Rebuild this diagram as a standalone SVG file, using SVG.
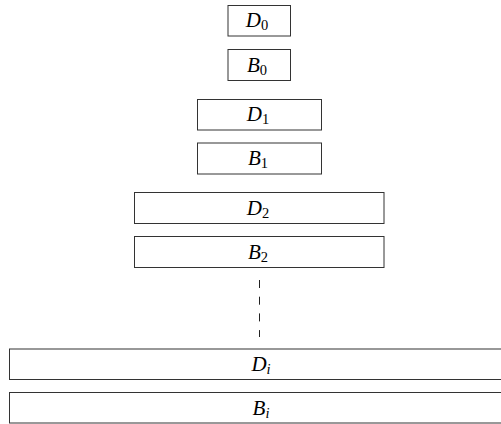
<svg xmlns="http://www.w3.org/2000/svg" width="501" height="424" viewBox="0 0 501 424">
<style>
.box{fill:#fff;stroke:#333;stroke-width:1}
.lbl{font-family:"Liberation Serif","DejaVu Serif",serif;font-size:21px;font-style:italic;fill:#000;text-anchor:middle}
.sub{font-style:normal;font-size:14.5px}
.subi{font-style:italic;font-size:14.5px}
.conn{stroke:#222;stroke-width:1;stroke-dasharray:8 8.7;fill:none}
</style>
<rect width="501" height="424" fill="#fff"/>
<g id="D0"><rect class="box" x="228" y="5.5" width="62.5" height="30.5"/><text class="lbl" x="257" y="27">D<tspan class="sub" dy="3">0</tspan></text></g>
<g id="B0"><rect class="box" x="228" y="49.5" width="62.5" height="31"/><text class="lbl" x="257" y="71.5">B<tspan class="sub" dy="3">0</tspan></text></g>
<g id="D1"><rect class="box" x="197.5" y="99.5" width="124" height="30.5"/><text class="lbl" x="258" y="121">D<tspan class="sub" dy="3">1</tspan></text></g>
<g id="B1"><rect class="box" x="197.5" y="143" width="124" height="31"/><text class="lbl" x="258" y="165">B<tspan class="sub" dy="3">1</tspan></text></g>
<g id="D2"><rect class="box" x="134.5" y="192.5" width="249.5" height="31"/><text class="lbl" x="258" y="214.5">D<tspan class="sub" dy="3">2</tspan></text></g>
<g id="B2"><rect class="box" x="134.5" y="236.5" width="249.5" height="31"/><text class="lbl" x="258" y="258.5">B<tspan class="sub" dy="3">2</tspan></text></g>
<g id="Di"><rect class="box" x="9.5" y="349" width="500" height="30.5"/><text class="lbl" x="261" y="371">D<tspan class="subi" dy="3">i</tspan></text></g>
<g id="Bi"><rect class="box" x="9.5" y="392.5" width="500" height="30.5"/><text class="lbl" x="261" y="414.5">B<tspan class="subi" dy="3">i</tspan></text></g>
<g id="connectors"><line class="conn" x1="259.5" y1="280" x2="259.5" y2="337"/></g>
</svg>
